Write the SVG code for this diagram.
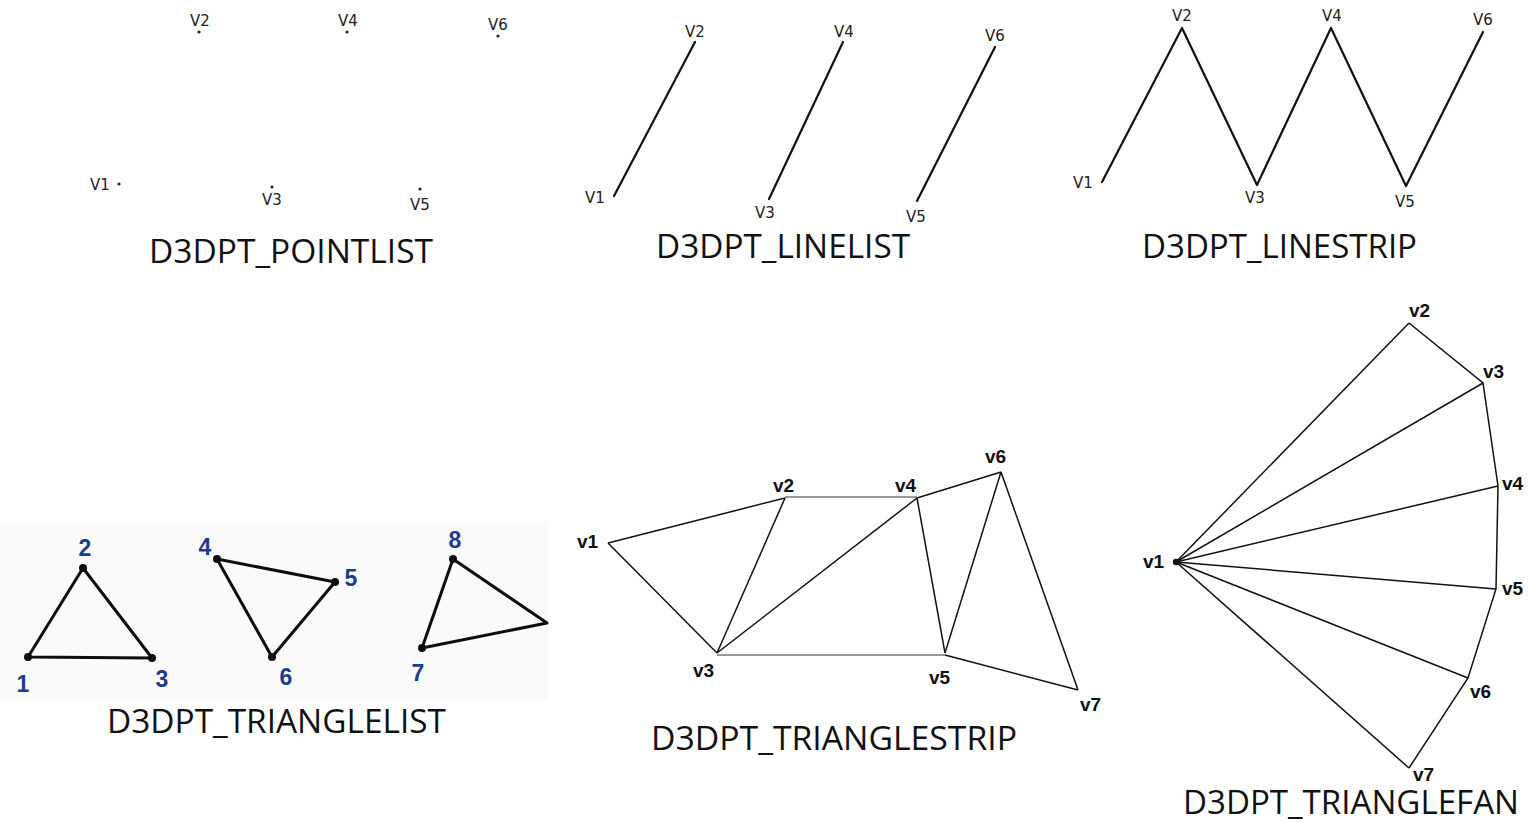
<svg xmlns="http://www.w3.org/2000/svg" width="1528" height="823" viewBox="0 0 1528 823">
<defs>
<style>
.title{font-family:"Open Sans","Noto Sans",sans-serif;font-size:32px;fill:#111}
.sm{font-family:"DejaVu Sans",Verdana,sans-serif;font-size:15px;fill:#222}
.bv{font-family:"Liberation Sans",Arial,sans-serif;font-size:19px;font-weight:bold;fill:#111}
.bl{font-family:"Liberation Sans",Arial,sans-serif;font-size:23px;font-weight:bold;fill:#1e3a8f}
.l2{stroke:#111;stroke-width:2.2;fill:none;stroke-linejoin:round;stroke-linecap:round}
.l3{stroke:#111;stroke-width:3;fill:none;stroke-linejoin:round}
.l1{stroke:#111;stroke-width:1.5;fill:none}
.h1{stroke:#333;stroke-width:1.2;fill:none}
.dot{fill:#222}
</style>
<filter id="soft" x="-5%" y="-5%" width="110%" height="110%"><feGaussianBlur stdDeviation="0.7"/></filter>
</defs>
<rect width="1528" height="823" fill="#fff"/>

<!-- POINTLIST -->
<g id="pointlist">
<circle class="dot" cx="119" cy="184" r="1.6"/>
<circle class="dot" cx="199" cy="32" r="1.6"/>
<circle class="dot" cx="272" cy="187" r="1.6"/>
<circle class="dot" cx="347" cy="32" r="1.6"/>
<circle class="dot" cx="420" cy="189" r="1.6"/>
<circle class="dot" cx="498" cy="36" r="1.6"/>
<text class="sm" x="90" y="190">V1</text>
<text class="sm" x="190" y="26">V2</text>
<text class="sm" x="262" y="205">V3</text>
<text class="sm" x="338" y="26">V4</text>
<text class="sm" x="410" y="210">V5</text>
<text class="sm" x="488" y="30">V6</text>
<text class="title" x="149" y="263" textLength="284" lengthAdjust="spacingAndGlyphs">D3DPT_POINTLIST</text>
</g>

<!-- LINELIST -->
<g id="linelist">
<g class="connectors">
<line class="l2" x1="614" y1="196" x2="695" y2="42"/>
<line class="l2" x1="769" y1="199" x2="843" y2="42"/>
<line class="l2" x1="917" y1="201" x2="995" y2="47"/>
</g>
<text class="sm" x="585" y="203">V1</text>
<text class="sm" x="685" y="37">V2</text>
<text class="sm" x="755" y="218">V3</text>
<text class="sm" x="834" y="37">V4</text>
<text class="sm" x="906" y="222">V5</text>
<text class="sm" x="985" y="41">V6</text>
<text class="title" x="656" y="258" textLength="254" lengthAdjust="spacingAndGlyphs">D3DPT_LINELIST</text>
</g>

<!-- LINESTRIP -->
<g id="linestrip">
<g class="connectors">
<polyline class="l2" points="1102,182 1182,28 1257,185 1331,28 1406,186 1483,32"/>
</g>
<text class="sm" x="1073" y="188">V1</text>
<text class="sm" x="1172" y="21">V2</text>
<text class="sm" x="1245" y="203">V3</text>
<text class="sm" x="1322" y="21">V4</text>
<text class="sm" x="1395" y="207">V5</text>
<text class="sm" x="1473" y="25">V6</text>
<text class="title" x="1142" y="258" textLength="275" lengthAdjust="spacingAndGlyphs">D3DPT_LINESTRIP</text>
</g>

<!-- TRIANGLELIST -->
<g id="trianglelist">
<rect x="0" y="521" width="548" height="180" fill="#fafafa"/>
<g class="connectors" filter="url(#soft)">
<polygon class="l3" points="28,657 83,568 152,658"/>
<polygon class="l3" points="217,559 335,582 272,657"/>
<polygon class="l3" points="422,648 453,559 547,623"/>
<circle cx="28" cy="657" r="4" fill="#111"/>
<circle cx="83" cy="568" r="4" fill="#111"/>
<circle cx="152" cy="658" r="4" fill="#111"/>
<circle cx="217" cy="559" r="4" fill="#111"/>
<circle cx="335" cy="582" r="4" fill="#111"/>
<circle cx="272" cy="657" r="4" fill="#111"/>
<circle cx="422" cy="648" r="4" fill="#111"/>
<circle cx="453" cy="559" r="4" fill="#111"/>
</g>
<text class="bl" x="23" y="692" text-anchor="middle">1</text>
<text class="bl" x="85" y="556" text-anchor="middle">2</text>
<text class="bl" x="162" y="687" text-anchor="middle">3</text>
<text class="bl" x="205" y="555" text-anchor="middle">4</text>
<text class="bl" x="351" y="586" text-anchor="middle">5</text>
<text class="bl" x="286" y="685" text-anchor="middle">6</text>
<text class="bl" x="418" y="681" text-anchor="middle">7</text>
<text class="bl" x="455" y="548" text-anchor="middle">8</text>
<text class="title" x="107" y="733" textLength="339" lengthAdjust="spacingAndGlyphs">D3DPT_TRIANGLELIST</text>
</g>

<!-- TRIANGLESTRIP -->
<g id="trianglestrip">
<g class="connectors">
<line class="l1" x1="608" y1="543" x2="785" y2="498"/>
<line class="l1" x1="608" y1="543" x2="717" y2="653"/>
<line class="l1" x1="785" y1="498" x2="717" y2="653"/>
<line class="h1" x1="785" y1="497" x2="917" y2="497"/>
<line class="l1" x1="717" y1="653" x2="917" y2="498"/>
<line class="h1" x1="717" y1="655" x2="945" y2="655"/>
<line class="l1" x1="917" y1="498" x2="945" y2="653"/>
<line class="l1" x1="917" y1="498" x2="1001" y2="472"/>
<line class="l1" x1="945" y1="653" x2="1001" y2="472"/>
<line class="l1" x1="945" y1="655" x2="1078" y2="690"/>
<line class="l1" x1="1001" y1="472" x2="1078" y2="690"/>
</g>
<text class="bv" x="577" y="548">v1</text>
<text class="bv" x="773" y="492">v2</text>
<text class="bv" x="693" y="677">v3</text>
<text class="bv" x="895" y="492">v4</text>
<text class="bv" x="929" y="684">v5</text>
<text class="bv" x="985" y="463">v6</text>
<text class="bv" x="1080" y="711">v7</text>
<text class="title" x="651" y="750" textLength="366" lengthAdjust="spacingAndGlyphs">D3DPT_TRIANGLESTRIP</text>
</g>

<!-- TRIANGLEFAN -->
<g id="trianglefan">
<g class="connectors">
<line class="l1" x1="1176" y1="562" x2="1409" y2="323"/>
<line class="l1" x1="1176" y1="562" x2="1483" y2="383"/>
<line class="l1" x1="1176" y1="562" x2="1498" y2="486"/>
<line class="l1" x1="1176" y1="562" x2="1496" y2="589"/>
<line class="l1" x1="1176" y1="562" x2="1468" y2="678"/>
<line class="l1" x1="1176" y1="562" x2="1409" y2="768"/>
<polyline class="l1" points="1409,323 1483,383 1498,486 1496,589 1468,678 1409,768"/>
<circle cx="1176" cy="562" r="3.2" fill="#111"/>
</g>
<text class="bv" x="1143" y="568">v1</text>
<text class="bv" x="1409" y="317">v2</text>
<text class="bv" x="1483" y="378">v3</text>
<text class="bv" x="1502" y="490">v4</text>
<text class="bv" x="1502" y="595">v5</text>
<text class="bv" x="1470" y="698">v6</text>
<text class="bv" x="1413" y="781">v7</text>
<text class="title" x="1183" y="814" textLength="336" lengthAdjust="spacingAndGlyphs">D3DPT_TRIANGLEFAN</text>
</g>
</svg>
